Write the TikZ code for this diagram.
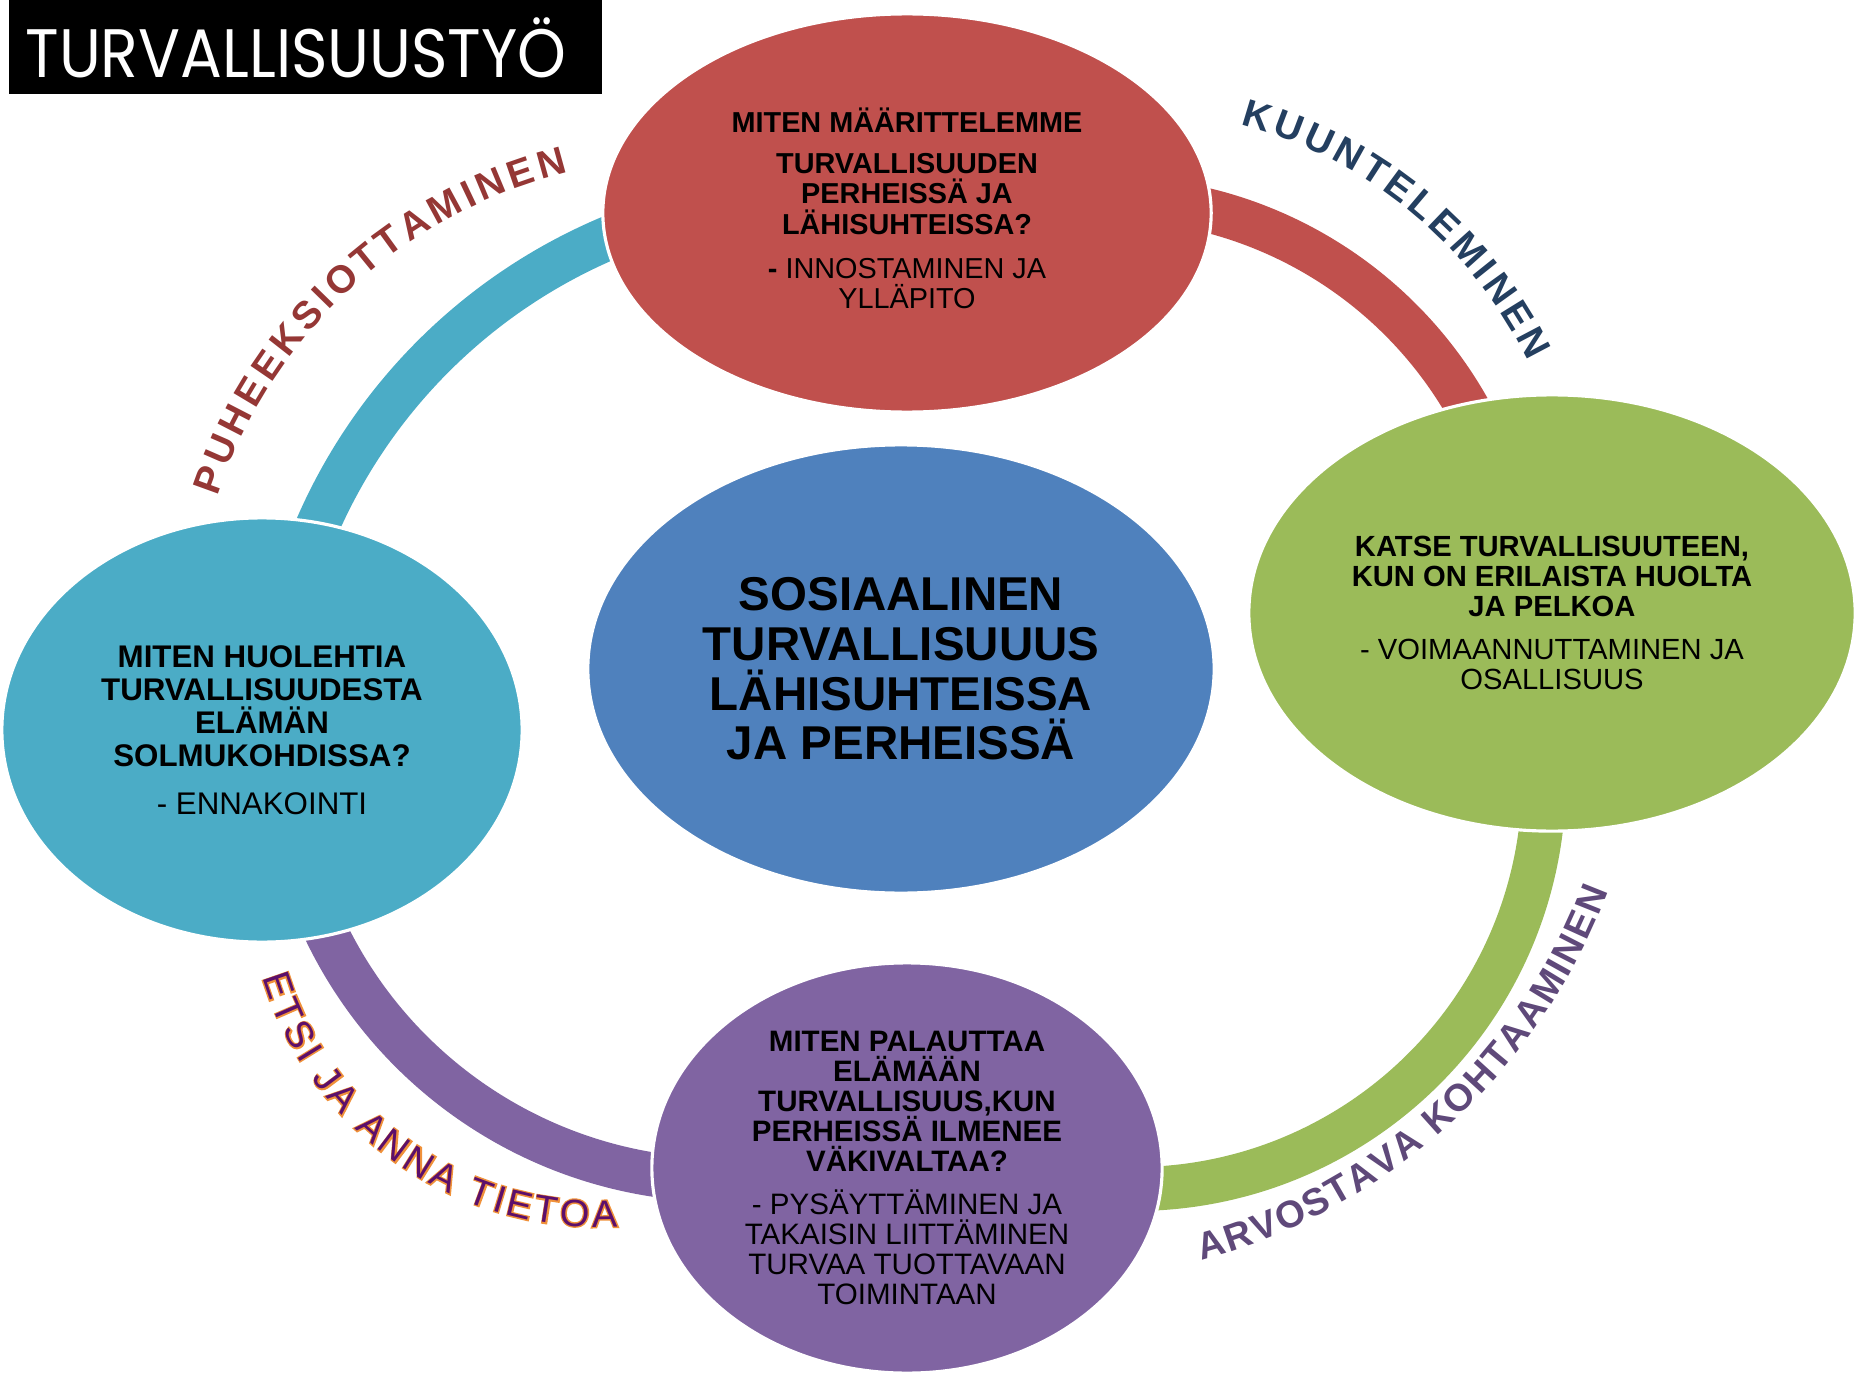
\documentclass[tikz,border=0pt]{standalone}
\usepackage{fontspec}
\setmainfont{Liberation Sans}
\newfontfamily\titlefont{Poppins}
\newfontfamily\outlinefont{Liberation Sans}[FakeBold=7]
\usetikzlibrary{shapes.geometric,decorations.text}

\definecolor{redbg}{HTML}{C0504D}
\definecolor{greenbg}{HTML}{9BBB59}
\definecolor{aquabg}{HTML}{4BACC6}
\definecolor{violetbg}{HTML}{8064A2}
\definecolor{bluebg}{HTML}{4F81BD}
\definecolor{puhered}{HTML}{953735}
\definecolor{kuunblue}{HTML}{243F60}
\definecolor{arvoviolet}{HTML}{5F497A}
\definecolor{etsiplum}{HTML}{5C0F6B}
\definecolor{etsiorange}{HTML}{F0913A}

% formats for the curved labels
\newcommand\puhefmt{\fontsize{11}{11}\selectfont\bfseries\color{puhered}}
\newcommand\kuunfmt{\fontsize{11}{11}\selectfont\bfseries\color{kuunblue}}
\newcommand\arvofmt{\fontsize{10.8}{11}\selectfont\bfseries\color{arvoviolet}}
\newcommand\etsiedge{\outlinefont\fontsize{10.8}{11}\selectfont\color{etsiorange}}
\newcommand\etsifill{\fontsize{10.8}{11}\selectfont\color{etsiplum}}

\tikzset{
  bubble/.style={ellipse, draw=white, line width=0.9pt, inner sep=0pt, align=center, text=black},
  qtext/.style={align=center, inner sep=0pt, text=black},
  ringarc/.style={line width=12.5pt},
  curvetext/.style={decorate, decoration={text along path, text align={fit to path}, text={#1}}}
}

\begin{document}
\begin{tikzpicture}[x=0.01cm, y=-0.01cm]
    \useasboundingbox (0,0) rectangle (1857,1373);
    \fill[white] (0,0) rectangle (1857,1373);

    % Title
    \node[fill=black, minimum width=5.93cm, minimum height=0.94cm, inner sep=0pt] (titlebox) at (305.5,47) {};
    \node[text=white, font=\titlefont\fontsize{19.5}{19.5}\selectfont] (titletext) at (296,48) {\scalebox{0.905}[1]{TURVALLISUUSTYÖ}};

    % Ring arcs (under the bubbles)
    \draw[ringarc, aquabg] ([shift={(-108:554)}]825,748) arc[start angle=-108, end angle=-160, radius=554];
    \draw[ringarc, redbg] ([shift={(-80:415)}]1107,613) arc[start angle=-80, end angle=-25, radius=415];
    \draw[ringarc, greenbg] ([shift={(3:410)}]1134,779) arc[start angle=3, end angle=92, radius=410];
    \draw[ringarc, violetbg] ([shift={(160:440)}]722,740) arc[start angle=160, end angle=95, radius=440];

    % Bubbles
    \node[bubble, fill=redbg, minimum width=6.08cm, minimum height=3.98cm] (topq) at (907,213) {};
    \node[qtext, font=\fontsize{8.2}{8.6}\selectfont\bfseries] (topqtext) at (907,208)
        {MITEN MÄÄRITTELEMME\\[3.2pt] TURVALLISUUDEN\\ PERHEISSÄ JA\\ LÄHISUHTEISSA?\\[3.9pt]
         - \mdseries INNOSTAMINEN JA\\ \mdseries YLLÄPITO};
    \node[bubble, fill=greenbg, minimum width=6.06cm, minimum height=4.36cm, font=\fontsize{8.3}{8.6}\selectfont\bfseries] (rightq) at (1552,613)
        {KATSE TURVALLISUUTEEN,\\ KUN ON ERILAISTA HUOLTA\\ JA PELKOA\\[3.6pt]
         \mdseries - VOIMAANNUTTAMINEN JA\\ \mdseries OSALLISUUS};
    \node[bubble, fill=aquabg, minimum width=5.2cm, minimum height=4.24cm, font=\fontsize{8.9}{9.4}\selectfont\bfseries] (leftq) at (262,730)
        {MITEN HUOLEHTIA\\ TURVALLISUUDESTA\\ ELÄMÄN\\ SOLMUKOHDISSA?\\[4.2pt]
         \mdseries - ENNAKOINTI};
    \node[bubble, fill=violetbg, minimum width=5.1cm, minimum height=4.1cm, font=\fontsize{8.4}{8.5}\selectfont\bfseries] (bottomq) at (907,1168)
        {MITEN PALAUTTAA\\ ELÄMÄÄN\\ TURVALLISUUS,KUN\\ PERHEISSÄ ILMENEE\\ VÄKIVALTAA?\\[3.7pt]
         \mdseries - PYSÄYTTÄMINEN JA\\ \mdseries TAKAISIN LIITTÄMINEN\\ \mdseries TURVAA TUOTTAVAAN\\ \mdseries TOIMINTAAN};
    \node[bubble, fill=bluebg, minimum width=6.26cm, minimum height=4.48cm, font=\fontsize{13.5}{14.1}\selectfont\bfseries] (core) at (901,669)
        {SOSIAALINEN\\ TURVALLISUUUS\\ LÄHISUHTEISSA\\ JA PERHEISSÄ};

    % Curved labels
    \path[curvetext={|\puhefmt|PUHEEKSIOTTAMINEN}]
        ([shift={(198.4:494)}]686,652) arc[start angle=198.4, end angle=256.2, radius=494];
    \path[curvetext={|\kuunfmt|KUUNTELEMINEN}]
        ([shift={(-75:450)}]1124,559) arc[start angle=-75, end angle=-26, radius=450];
    \path[curvetext={|\arvofmt|ARVOSTAVA KOHTAAMINEN}]
        ([shift={(75:600)}]1046,681) arc[start angle=75, end angle=20.5, radius=600];
    \path[curvetext={|\etsiedge|ETSI JA ANNA TIETOA}]
        ([shift={(163:352)}]599,875) arc[start angle=163, end angle=87, radius=352];
    \path[curvetext={|\etsifill|ETSI JA ANNA TIETOA}]
        ([shift={(163:352)}]599,875) arc[start angle=163, end angle=87, radius=352];
\end{tikzpicture}
\end{document}
